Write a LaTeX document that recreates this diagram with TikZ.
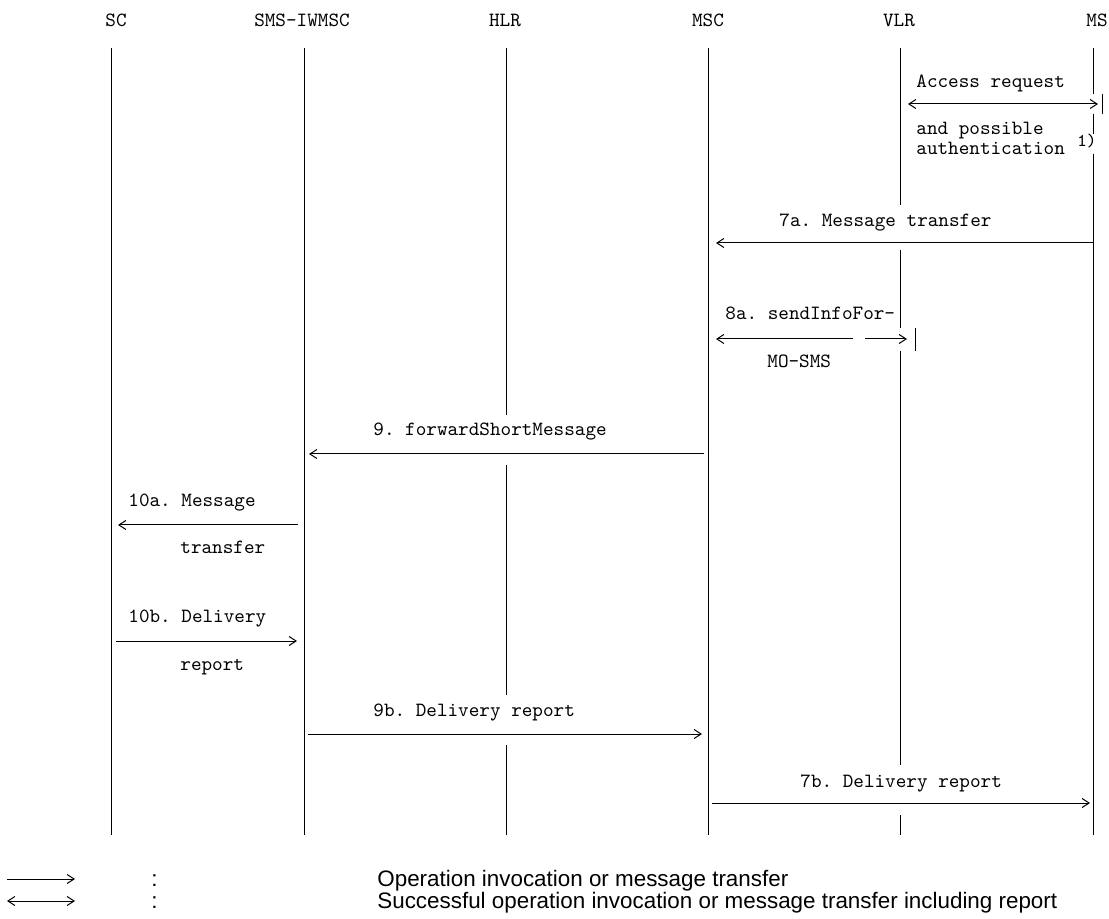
\documentclass[tikz,border=0pt]{standalone}
\usepackage{fontspec}
\setsansfont{Liberation Sans}
\usetikzlibrary{arrows.meta}

\begin{document}
\frenchspacing
\begin{tikzpicture}[x=0.5pt,y=-0.5pt,
    >={Straight Barb[length=3.5pt,width=4.5pt]},
    life/.style={line width=0.5pt},
    msg/.style={line width=0.5pt, shorten <=2pt, shorten >=3pt},
    hdr/.style={font=\ttfamily\fontsize{10.1}{12}\selectfont, inner sep=0pt},
    txt/.style={font=\ttfamily\fontsize{10.1}{12}\selectfont, inner sep=0pt, anchor=mid west},
    leg/.style={font=\sffamily\fontsize{11.2}{10}\selectfont, inner sep=0pt, anchor=base west}]
    \useasboundingbox (0,0) rectangle (1109,919);

    % Entities
    \node[hdr] (sc)  at (116,20)  {SC};
    \node[hdr] (iw)  at (302,20)  {SMS-IWMSC};
    \node[hdr] (hlr) at (505,20)  {HLR};
    \node[hdr] (msc) at (708,20)  {MSC};
    \node[hdr] (vlr) at (899,20)  {VLR};
    \node[hdr] (ms)  at (1097,20) {MS};

    \coordinate (scL)  at (111,48);
    \coordinate (iwL)  at (304,48);
    \coordinate (hlrL) at (506,48);
    \coordinate (mscL) at (708,48);
    \coordinate (vlrL) at (900,48);
    \coordinate (msL)  at (1093,48);

    % Lifelines
    \draw[life] (scL) -- (scL |- 0,835);
    \draw[life] (iwL) -- (iwL |- 0,835);
    \draw[life] (hlrL) -- (hlrL |- 0,415) (hlrL |- 0,465) -- (hlrL |- 0,695) (hlrL |- 0,745) -- (hlrL |- 0,835);
    \draw[life] (mscL) -- (mscL |- 0,835);
    \draw[life] (vlrL) -- (vlrL |- 0,205) (vlrL |- 0,250) -- (vlrL |- 0,328) (vlrL |- 0,351) -- (vlrL |- 0,765) (vlrL |- 0,815) -- (vlrL |- 0,835);
    \draw[life] ([xshift=7.5pt]vlrL |- 0,328) -- ([xshift=7.5pt]vlrL |- 0,351);
    \draw[life] (msL) -- (msL |- 0,94) (msL |- 0,114) -- (msL |- 0,134) (msL |- 0,154) -- (msL |- 0,835);
    \draw[life] ([xshift=4.5pt]msL |- 0,94) -- ([xshift=4.5pt]msL |- 0,114);

    % Access request
    \node[txt] (acc)  at (916,83)  {Access request};
    \draw[msg,<->,shorten <=4pt,shorten >=-2.5pt] (vlrL |- 0,104) -- (msL |- 0,104);
    \node[txt] (acc2) at (916,130) {and possible};
    \node[txt] (acc3) at (916,150) {authentication};
    \node[txt,font=\ttfamily\fontsize{9}{10}\selectfont] (fn1) at (1077,142) {1)};

    % 7a
    \node[txt] (m7a) at (779,222) {7a. Message transfer};
    \draw[msg,->,shorten <=0pt,shorten >=4pt] (msL |- 0,243) -- (mscL |- 0,243);

    % 8a
    \node[txt] (m8a)  at (725,315) {8a. sendInfoFor-};
    \coordinate (cut1) at (853,339);
    \coordinate (cut2) at (865,339);
    \draw[msg,<-,shorten <=4pt,shorten >=0pt] (mscL |- 0,339) -- (cut1);
    \draw[msg,->,shorten <=0pt,shorten >=-3.5pt] (cut2) -- (vlrL |- 0,339);
    \node[txt] (m8b)  at (767,363) {MO-SMS};

    % 9
    \node[txt] (m9) at (373,431) {9. forwardShortMessage};
    \draw[msg,->,shorten >=2.5pt] (mscL |- 0,454) -- (iwL |- 0,454);

    % 10a
    \node[txt] (m10a)  at (128,502) {10a. Message};
    \draw[msg,->,shorten <=3pt,shorten >=3.5pt] (iwL |- 0,525) -- (scL |- 0,525);
    \node[txt] (m10a2) at (180,549) {transfer};

    % 10b
    \node[txt] (m10b)  at (128,618) {10b. Delivery};
    \draw[msg,->,shorten <=2.5pt,shorten >=3.5pt] (scL |- 0,641) -- (iwL |- 0,641);
    \node[txt] (m10b2) at (180,666) {report};

    % 9b
    \node[txt] (m9b) at (373,712) {9b. Delivery report};
    \draw[msg,->] (iwL |- 0,734) -- (mscL |- 0,734);

    % 7b
    \node[txt] (m7b) at (800,783) {7b. Delivery report};
    \draw[msg,->,shorten >=1.5pt] (mscL |- 0,803) -- (msL |- 0,803);

    % Legend
    \coordinate (la1) at (7,879);
    \coordinate (la2) at (75,879);
    \coordinate (lb1) at (7,901);
    \coordinate (lb2) at (75,901);
    \draw[line width=0.5pt,->] (la1) -- (la2);
    \draw[line width=0.5pt,<->] (lb1) -- (lb2);
    \node[leg] (colA) at (151,886) {:};
    \node[leg] (colB) at (151,908) {:};
    \node[leg] (legA) at (377,886) {Operation invocation or message transfer};
    \node[leg] (legB) at (377,908) {Successful operation invocation or message transfer including report};
\end{tikzpicture}
\end{document}
